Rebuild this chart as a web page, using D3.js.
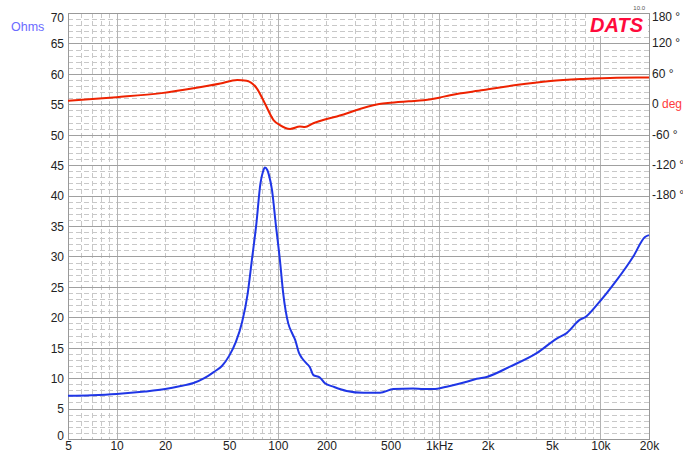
<!DOCTYPE html>
<html>
<head>
<meta charset="utf-8">
<script src="https://cdn.jsdelivr.net/npm/d3@7"></script>
<style>
  body { margin: 0; background: #fff; }
  svg { display: block; font-family: 'Liberation Sans', Arial, sans-serif; }
</style>
</head>
<body>
<div id="chart"></div>
<script>
// impedance curve (Ohms)
const zFreq = [5, 7, 10, 15, 20, 25, 30, 35, 40, 45, 50, 55, 60, 65, 69, 73.6, 78, 81, 83.2, 86, 88, 92, 97, 103, 108, 116, 122, 128, 135, 141, 151, 158, 166, 182, 196, 221, 267, 339, 430, 520, 691, 797, 920, 1114, 1482, 1709, 1972, 2750, 4024, 5355, 6175, 7470, 8020, 9475, 12610, 15980, 18890, 20000]
const zOhms = [7.1, 7.2, 7.4, 7.8, 8.2, 8.7, 9.2, 10.0, 11.0, 12.0, 13.7, 16.0, 19.2, 23.9, 29.4, 35.4, 42.0, 44.0, 44.6, 44.2, 43.4, 40.9, 35.4, 29.4, 23.9, 19.0, 17.5, 16.3, 14.2, 13.3, 12.4, 11.8, 10.5, 10.1, 9.15, 8.6, 7.9, 7.6, 7.6, 8.2, 8.3, 8.2, 8.2, 8.6, 9.4, 9.9, 10.2, 11.9, 14.1, 16.5, 17.4, 19.6, 20.0, 22.0, 26.1, 30.0, 33.2, 33.5]

// phase curve (degrees)
const phFreq = [5, 10, 19, 30, 44, 56, 64, 74, 83, 94, 103, 119, 137, 147, 166, 191, 232, 425, 500, 650, 800, 1000, 1170, 1880, 3000, 4900, 7800, 12600, 20000]
const phDeg = [7, 14, 22, 31.5, 41, 48, 46.5, 31.5, 2, -31, -41, -48.5, -44, -45, -37.5, -31, -24, 0.6, 3, 6, 8, 13, 18, 28, 38, 46, 50, 52.5, 53]

const xTicks = [5, 10, 20, 50, 100, 200, 500, 1000, 2000, 5000, 10000, 20000]
const xTickLabels = ['5', '10', '20', '50', '100', '200', '500', '1kHz', '2k', '5k', '10k', '20k']
const ohmTicks = d3.range(0, 71, 5)
const degTicks = [180, 120, 60, 0, -60, -120, -180]

const width = 683
const height = 452
const margin = { top: 13, right: 34, bottom: 13, left: 68 }
const iw = width - margin.left - margin.right
const ih = height - margin.top - margin.bottom

const x = d3.scaleLog().domain([5, 20000]).range([0, iw])
const y = d3.scaleLinear().domain([0, 70]).range([ih, 0])
// phase axis: 180 deg at top (70 Ohm), 0 deg at 55 Ohm
const yDeg = d3.scaleLinear().domain([-180, 180]).range([y(40), y(70)])

const svg = d3
  .select('#chart')
  .append('svg')
  .attr('width', width)
  .attr('height', height)

const g = svg
  .append('g')
  .attr('transform', `translate(${margin.left},${margin.top})`)

// minor grid
const minorX = x.ticks().filter(d => ![10, 100, 1000, 10000].includes(d))
g.append('g')
  .selectAll('line')
  .data(minorX)
  .join('line')
  .attr('x1', d => Math.round(x(d)) + 0.5)
  .attr('x2', d => Math.round(x(d)) + 0.5)
  .attr('y1', 0)
  .attr('y2', ih)
  .attr('stroke', '#c8c8c8')
  .attr('stroke-dasharray', '5,3')

const minorY = d3.range(0, 71).filter(d => d % 5)
g.append('g')
  .selectAll('line')
  .data(minorY)
  .join('line')
  .attr('x1', 0)
  .attr('x2', iw)
  .attr('y1', d => Math.round(y(d)) + 0.5)
  .attr('y2', d => Math.round(y(d)) + 0.5)
  .attr('stroke', '#c8c8c8')
  .attr('stroke-dasharray', '5,3')

// white box behind logo
g.append('rect')
  .attr('x', 518)
  .attr('y', 1)
  .attr('width', iw - 519)
  .attr('height', 22)
  .attr('fill', '#fff')

// major grid
g.append('g')
  .selectAll('line')
  .data([10, 100, 1000, 10000])
  .join('line')
  .attr('x1', d => Math.round(x(d)) + 0.5)
  .attr('x2', d => Math.round(x(d)) + 0.5)
  .attr('y1', d => (d === 10000 ? 23 : 0))
  .attr('y2', ih)
  .attr('stroke', '#b4b4b4')

g.append('g')
  .selectAll('line')
  .data(ohmTicks)
  .join('line')
  .attr('x1', 0)
  .attr('x2', iw)
  .attr('y1', d => Math.round(y(d)) + 0.5)
  .attr('y2', d => Math.round(y(d)) + 0.5)
  .attr('stroke', '#a0a0a0')

// frame
g.append('rect')
  .attr('x', 0.5)
  .attr('y', 0.5)
  .attr('width', iw)
  .attr('height', ih)
  .attr('fill', 'none')
  .attr('stroke', '#999')

// axes
g.append('g')
  .attr('transform', `translate(0,${ih})`)
  .call(
    d3
      .axisBottom(x)
      .tickValues(xTicks)
      .tickSize(0)
      .tickPadding(2)
      .tickFormat((d, i) => xTickLabels[i])
  )
  .call(g => g.select('.domain').remove())
  .call(g => g.selectAll('text').attr('font-size', 12).attr('fill', '#222'))

g.append('g')
  .call(d3.axisLeft(y).tickValues(ohmTicks).tickSize(0).tickPadding(4))
  .call(g => g.select('.domain').remove())
  .call(g =>
    g
      .selectAll('.tick')
      .attr('transform', d => `translate(0,${Math.min(Math.max(y(d) + 1, 5), ih - 3)})`)
  )
  .call(g => g.selectAll('text').attr('font-size', 12).attr('fill', '#222'))

g.append('g')
  .attr('transform', `translate(${iw},0)`)
  .call(
    d3
      .axisRight(yDeg)
      .tickValues(degTicks)
      .tickSize(0)
      .tickPadding(3)
      .tickFormat(d => (d === 0 ? '0 ' : d + ' °'))
  )
  .call(g => g.select('.domain').remove())
  .call(g =>
    g
      .selectAll('.tick')
      .attr('transform', d => `translate(0,${Math.max(yDeg(d), 4.5)})`)
  )
  .call(g => g.selectAll('text').attr('font-size', 12).attr('fill', '#222'))
  .call(g =>
    g
      .selectAll('.tick')
      .filter(d => d === 0)
      .select('text')
      .append('tspan')
      .attr('fill', '#ff3b3b')
      .text('deg')
  )

svg
  .append('text')
  .attr('x', 11)
  .attr('y', 30.5)
  .attr('font-size', 12.5)
  .attr('fill', '#6b6bff')
  .text('Ohms')

svg
  .append('text')
  .attr('x', 643)
  .attr('y', 31.5)
  .attr('text-anchor', 'end')
  .attr('font-size', 20)
  .attr('font-weight', 'bold')
  .attr('font-style', 'italic')
  .attr('fill', '#ff0a3c')
  .text('DATS')

svg
  .append('text')
  .attr('x', 645)
  .attr('y', 10)
  .attr('text-anchor', 'end')
  .attr('font-size', 6)
  .attr('fill', '#555')
  .text('10.0')

// curves
const line = d3.line().curve(d3.curveMonotoneX)

g.append('path')
  .attr('d', line(phFreq.map((f, i) => [x(f), yDeg(phDeg[i])])))
  .attr('fill', 'none')
  .attr('stroke', '#ee2200')
  .attr('stroke-width', 2)

g.append('path')
  .attr('d', line(zFreq.map((f, i) => [x(f), y(zOhms[i])])))
  .attr('fill', 'none')
  .attr('stroke', '#1f36e6')
  .attr('stroke-width', 2)
</script>
</body>
</html>
